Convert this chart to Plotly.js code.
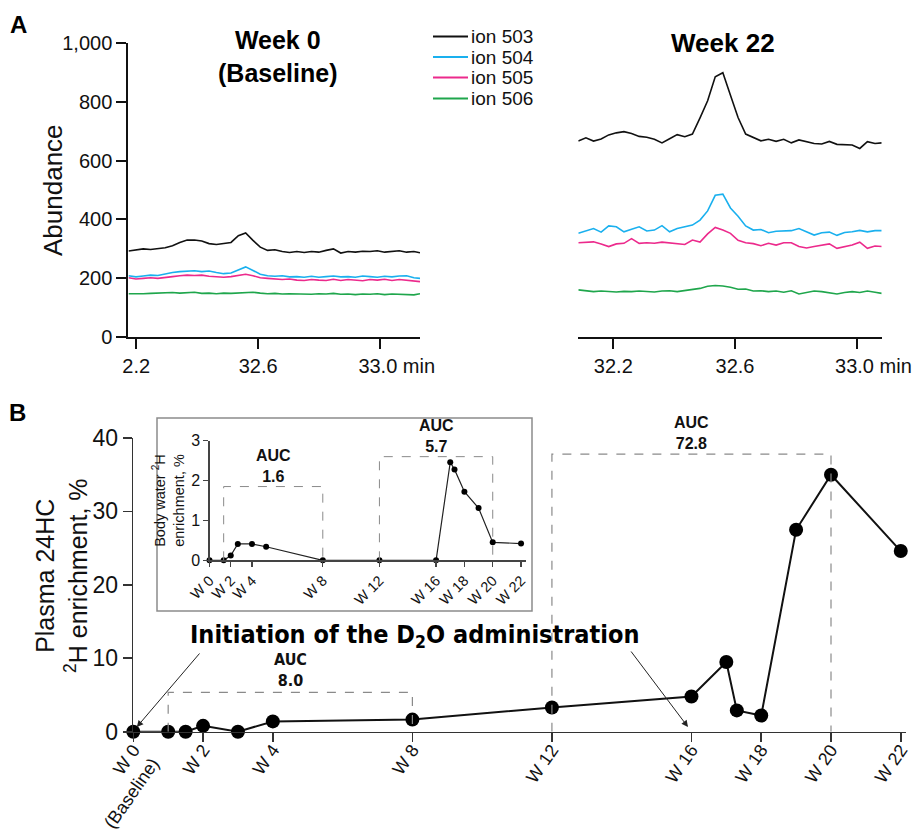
<!DOCTYPE html>
<html><head><meta charset="utf-8">
<script src="https://cdn.plot.ly/plotly-3.0.1.min.js"></script>
<style>html,body{margin:0;padding:0;background:#fff}#chart{width:919px;height:829px}</style>
</head><body><div id="chart"></div>
<script>
// ---------- Panel A: chromatograms ----------
const ionNames = ['ion 503', 'ion 504', 'ion 505', 'ion 506'];
const xTickValsA = [32.2, 32.6, 33.0];
const xTickTextA = ['2.2', '32.6', '\u00a0\u00a0\u00a0\u00a0\u00a0\u00a033.0 min'];
const xTickTextA2 = ['32.2', '32.6', '\u00a0\u00a0\u00a0\u00a0\u00a0\u00a033.0 min'];
const yTickValsA = [0, 200, 400, 600, 800, 1000];

const timeWeek0 = [32.175,32.199,32.223,32.247,32.271,32.295,32.319,32.343,32.367,32.391,32.415,32.439,32.463,32.487,32.511,32.535,32.559,32.583,32.607,32.631,32.655,32.679,32.703,32.727,32.751,32.775,32.799,32.823,32.847,32.871,32.895,32.919,32.943,32.967,32.991,33.015,33.039,33.063,33.087,33.111,33.131];
const ion503Week0 = [293,296,300,298,301,304,311,322,330,330,327,318,315,318,322,345,354,329,306,295,297,291,288,291,288,291,289,295,300,286,291,289,292,291,294,289,291,294,289,291,287];
const ion504Week0 = [209,205,208,211,210,216,220,223,225,226,223,225,220,216,218,229,239,227,214,209,207,209,205,206,204,207,204,206,208,205,206,204,208,206,204,207,205,208,209,202,200];
const ion505Week0 = [202,198,200,202,200,204,206,209,211,210,211,207,206,204,206,209,214,209,202,200,198,196,198,194,193,196,194,193,197,193,196,194,192,196,194,197,193,196,194,192,189];
const ion506Week0 = [148,147,148,149,150,149,152,150,152,153,149,150,148,150,149,150,152,153,150,148,149,147,148,147,148,146,148,147,149,146,147,145,147,146,148,145,147,146,145,144,148];

const timeWeek22 = [32.085,32.110,32.135,32.160,32.185,32.210,32.235,32.260,32.285,32.310,32.335,32.360,32.385,32.410,32.435,32.460,32.485,32.510,32.535,32.560,32.585,32.610,32.635,32.660,32.685,32.710,32.735,32.760,32.785,32.810,32.835,32.860,32.885,32.910,32.935,32.960,32.985,33.010,33.035,33.060,33.082];
const ion503Week22 = [666,677,666,673,687,694,698,692,682,679,672,660,674,688,681,690,745,803,884,898,822,746,690,679,667,672,665,672,660,670,663,658,656,665,655,654,653,641,664,658,660];
const ion504Week22 = [353,360,369,357,378,375,358,367,375,361,364,379,358,369,375,381,398,429,482,486,439,411,378,364,366,355,360,361,362,369,357,347,355,357,346,356,358,363,358,362,362];
const ion505Week22 = [321,322,324,317,308,317,319,335,319,321,319,323,321,318,315,330,323,351,373,364,353,329,321,318,311,319,313,321,321,308,303,308,312,317,302,307,313,323,302,310,308];
const ion506Week22 = [161,157,155,157,156,154,156,155,157,156,154,157,158,155,158,163,166,173,176,174,170,163,164,157,158,155,157,153,158,147,153,157,155,152,147,152,155,152,157,153,149];

// ---------- Panel B: enrichment ----------
const weeks = [0,1,1.5,2,3,4,8,12,16,17,17.3,18,19,20,22];
const plasma24HC = [0,0,0,0.8,0,1.4,1.65,3.3,4.8,9.5,2.9,2.2,27.5,35,24.6];
const bodyWater = [0,0,0.12,0.41,0.41,0.34,0,0,0,2.46,2.28,1.72,1.31,0.45,0.42];
const mainTickVals = [0,2,4,8,12,16,18,20,22];
const mainTickText = ['W 0<br>(Baseline)','W 2','W 4','W 8','W 12','W 16','W 18','W 20','W 22'];
const mainYTicks = [0,10,20,30,40];
const insetTickVals = [0,1.5,3,8,12,16,18,20,22];
const insetTickText = ['W 0','W 2','W 4','W 8','W 12','W 16','W 18','W 20','W 22'];
const insetYTicks = [0,1,2,3];
const aucMainStart = [1,12], aucMainEnd = [8,20], aucMainTop = [5.35,37.8], aucMainValue = ['8.0','72.8'];
const aucInsetStart = [1,12], aucInsetEnd = [8,20], aucInsetTop = [1.85,2.6], aucInsetValue = ['1.6','5.7'];
const arrowWeeks = [0.1, 15.9], arrowLevel = [0.64, 0.64];

// ---------- styles ----------
const ionColors = ['#111111', '#1ab0ee', '#ec2a8c', '#1fa64c'];
const FONT = 'Liberation Sans, Arial, Helvetica, sans-serif';
const NARROW = 'Liberation Sans Narrow, Arial Narrow, DejaVu Sans Condensed, Liberation Sans, sans-serif';
const W = 919, H = 829;
const px = v => v / W, py = v => 1 - v / H;

const week0Series = [ion503Week0, ion504Week0, ion505Week0, ion506Week0];
const week22Series = [ion503Week22, ion504Week22, ion505Week22, ion506Week22];
const traces = [];
week0Series.forEach((s, i) => traces.push({
  x: timeWeek0, y: s, type: 'scatter', mode: 'lines', name: ionNames[i],
  line: {color: ionColors[i], width: 1.6}, xaxis: 'x', yaxis: 'y', showlegend: false
}));
week22Series.forEach((s, i) => traces.push({
  x: timeWeek22, y: s, type: 'scatter', mode: 'lines', name: ionNames[i],
  line: {color: ionColors[i], width: 1.6}, xaxis: 'x2', yaxis: 'y2', showlegend: false
}));
traces.push({
  x: weeks, y: plasma24HC, type: 'scatter', mode: 'lines+markers', xaxis: 'x3', yaxis: 'y3',
  line: {color: '#111', width: 2}, marker: {color: '#000', size: 14}, showlegend: false, cliponaxis: false
});
traces.push({
  x: weeks, y: bodyWater, type: 'scatter', mode: 'lines+markers', xaxis: 'x4', yaxis: 'y4',
  line: {color: '#222', width: 1.2}, marker: {color: '#000', size: 6}, showlegend: false, cliponaxis: false
});

const axA = {
  showline: true, linewidth: 2, linecolor: '#111', ticks: 'outside', ticklen: 10, tickwidth: 2, tickcolor: '#111',
  showgrid: false, zeroline: false, tickfont: {family: FONT, size: 20, color: '#111'}, fixedrange: true
};
const axB = {
  showline: true, linewidth: 1.6, linecolor: '#333', ticks: 'outside', ticklen: 9, tickwidth: 1.6, tickcolor: '#333',
  showgrid: false, zeroline: false, tickfont: {family: FONT, size: 23, color: '#111'}, fixedrange: true
};
const axI = {
  showline: true, linewidth: 1.2, linecolor: '#444', ticks: 'outside', ticklen: 5, tickwidth: 1.2, tickcolor: '#444',
  showgrid: false, zeroline: false, tickfont: {family: FONT, size: 14.5, color: '#111'}, fixedrange: true
};

const shapes = [];
aucMainStart.forEach((s, i) => shapes.push({
  type: 'path', xref: 'x3', yref: 'y3',
  path: `M ${s},0 L ${s},${aucMainTop[i]} L ${aucMainEnd[i]},${aucMainTop[i]} L ${aucMainEnd[i]},0`,
  line: {color: '#8a8a8a', width: 1.2, dash: 'dash'}
}));
aucInsetStart.forEach((s, i) => shapes.push({
  type: 'path', xref: 'x4', yref: 'y4',
  path: `M ${s},0 L ${s},${aucInsetTop[i]} L ${aucInsetEnd[i]},${aucInsetTop[i]} L ${aucInsetEnd[i]},0`,
  line: {color: '#8a8a8a', width: 1, dash: 'dash'}
}));
shapes.push({type: 'rect', xref: 'paper', yref: 'paper', x0: px(157), x1: px(532), y0: py(611), y1: py(418),
  line: {color: '#8c8c8c', width: 1.5}, fillcolor: 'rgba(0,0,0,0)', layer: 'below'});

// legend (drawn manually to match the tight line spacing of the reference)
const legendRowsY = [36.5, 57, 77.5, 98.5];
ionNames.forEach((n, i) => shapes.push({type: 'line', xref: 'paper', yref: 'paper',
  x0: px(433), x1: px(468), y0: py(legendRowsY[i]), y1: py(legendRowsY[i]), line: {color: ionColors[i], width: 2}}));

const annotations = [
  {text: '<b>A</b>', xref: 'paper', yref: 'paper', x: px(8), y: py(25), xanchor: 'left', yanchor: 'middle', showarrow: false, font: {family: FONT, size: 24, color: '#000'}},
  {text: '<b>B</b>', xref: 'paper', yref: 'paper', x: px(7), y: py(412), xanchor: 'left', yanchor: 'middle', showarrow: false, font: {family: FONT, size: 24, color: '#000'}},
  {text: '<b>Week 0<br>(Baseline)</b>', xref: 'paper', yref: 'paper', x: px(277), y: py(24), xanchor: 'center', yanchor: 'top', showarrow: false, font: {family: FONT, size: 25, color: '#000'}},
  {text: '<b>Week 22</b>', xref: 'paper', yref: 'paper', x: px(723), y: py(26), xanchor: 'center', yanchor: 'top', showarrow: false, font: {family: FONT, size: 26, color: '#000'}},
  {text: 'Abundance', xref: 'paper', yref: 'paper', x: px(53), y: py(190), xanchor: 'center', yanchor: 'middle', textangle: -90, showarrow: false, font: {family: FONT, size: 26, color: '#111'}},
  {text: 'Plasma 24HC<br><sup>2</sup>H enrichment, %', xref: 'paper', yref: 'paper', x: px(61), y: py(575), xanchor: 'center', yanchor: 'middle', textangle: -90, showarrow: false, font: {family: FONT, size: 25, color: '#111'}},
  {text: '<b>Initiation of the D<sub>2</sub>O administration</b>', xref: 'paper', yref: 'paper', x: px(414), y: py(636), xanchor: 'center', yanchor: 'middle', showarrow: false, font: {family: NARROW, size: 25, color: '#000'}}
];
ionNames.forEach((n, i) => annotations.push({text: n, xref: 'paper', yref: 'paper', x: px(469), y: py(legendRowsY[i]),
  xanchor: 'left', yanchor: 'middle', showarrow: false, font: {family: FONT, size: 19, color: '#111'}}));
aucMainStart.forEach((s, i) => annotations.push({
  text: '<b>AUC<br>' + aucMainValue[i] + '</b>', xref: 'x3', yref: 'y3', x: (s + aucMainEnd[i]) / 2, y: aucMainTop[i],
  xanchor: 'center', yanchor: 'bottom', showarrow: false,
  font: {family: i === 0 ? NARROW : FONT, size: 16, color: '#111'}
}));
aucInsetStart.forEach((s, i) => annotations.push({
  text: '<b>AUC<br>' + aucInsetValue[i] + '</b>', xref: 'x4', yref: 'y4', x: (s + aucInsetEnd[i]) / 2, y: aucInsetTop[i],
  xanchor: 'center', yanchor: 'bottom', showarrow: false, font: {family: FONT, size: 16, color: '#111'}
}));
arrowWeeks.forEach((w, i) => annotations.push({
  text: '', xref: 'x3', yref: 'y3', x: w, y: arrowLevel[i], showarrow: true,
  ax: i === 0 ? 64 : -58, ay: i === 0 ? -75 : -77, arrowhead: 2, arrowsize: 1.3, arrowwidth: 1, arrowcolor: '#222', standoff: 0
}));

const layout = {
  width: W, height: H, margin: {l: 0, r: 0, t: 0, b: 0},
  paper_bgcolor: '#fff', plot_bgcolor: 'rgba(0,0,0,0)',
  font: {family: FONT, color: '#111'},
  showlegend: false,
  xaxis: Object.assign({}, axA, {domain: [px(128.3), px(420)], range: [32.174, 33.131], anchor: 'y',
    tickvals: xTickValsA, ticktext: xTickTextA}),
  yaxis: Object.assign({}, axA, {domain: [py(337.3), py(42.7)], range: [0, 1000], anchor: 'x',
    tickvals: yTickValsA, tickformat: ','}),
  xaxis2: Object.assign({}, axA, {domain: [px(578.3), px(881.7)], range: [32.085, 33.082], anchor: 'y2',
    tickvals: xTickValsA, ticktext: xTickTextA2}),
  yaxis2: {domain: [py(337.3), py(42.7)], range: [0, 1000], anchor: 'x2', visible: false, fixedrange: true},
  xaxis3: Object.assign({}, axB, {domain: [px(133.3), px(906)], range: [0, 22.15], anchor: 'y3',
    tickvals: mainTickVals, ticktext: mainTickText, tickangle: -55, ticklabelstandoff: -10,
    tickfont: {family: FONT, size: 18, color: '#111'}}),
  yaxis3: Object.assign({}, axB, {domain: [py(731.7), py(438)], range: [0, 40], anchor: 'x3',
    tickvals: mainYTicks}),
  xaxis4: Object.assign({}, axI, {domain: [px(209.5), px(526)], range: [0, 22.35], anchor: 'y4',
    tickvals: insetTickVals, ticktext: insetTickText, tickangle: -45}),
  yaxis4: Object.assign({}, axI, {domain: [py(560.3), py(440.7)], range: [0, 3], anchor: 'x4',
    tickvals: insetYTicks, tickfont: {family: FONT, size: 16, color: '#111'},
    title: {text: 'Body water <sup>2</sup>H<br>enrichment, %', font: {family: FONT, size: 14.5, color: '#111'}, standoff: 3}}),
  shapes: shapes, annotations: annotations
};

Plotly.newPlot('chart', traces, layout, {staticPlot: true, displayModeBar: false});
</script></body></html>
